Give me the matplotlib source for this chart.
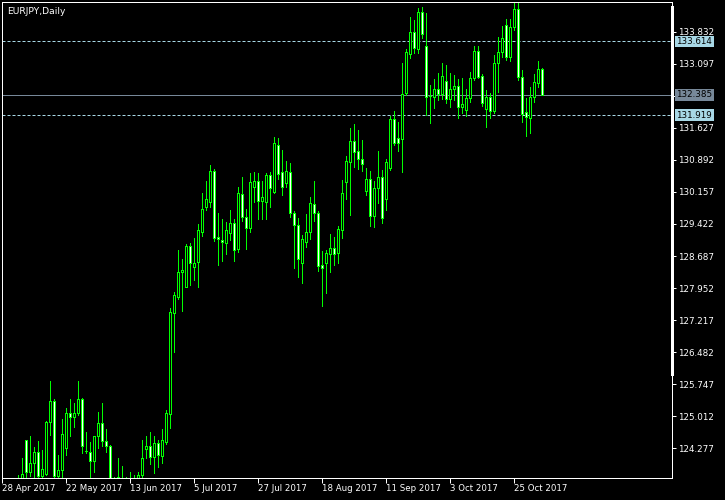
import matplotlib
matplotlib.use('Agg')
import matplotlib.pyplot as plt
import matplotlib.transforms as mtransforms
from matplotlib.patches import Rectangle
import pandas as pd

symbol = "EURJPY,Daily"
first_date = "2017-04-28"
n_days = 136
first_bar = 4  # index (from first_date) of the first bar with data

opens = [123.43, 123.43, 124.46, 123.73, 123.93, 124.19, 123.63, 123.68, 124.87, 125.36,
         123.63, 123.77, 124.28, 125.08, 124.99, 125.08, 125.40, 124.21, 124.19, 123.98,
         124.55, 124.85, 124.44, 124.32, 123.43, 123.59, 123.43, 123.50, 123.50, 123.54,
         123.50, 123.66, 124.25, 124.32, 124.07, 124.39, 124.09, 124.42, 125.06, 127.38,
         127.75, 128.32, 127.98, 128.92, 128.43, 128.55, 129.24, 129.81, 129.93, 130.64,
         129.12, 129.05, 128.99, 129.22, 129.45, 128.85, 130.11, 129.58, 129.33, 130.27,
         130.41, 129.95, 129.93, 130.55, 130.16, 131.24, 130.62, 130.36, 130.62, 129.67,
         129.40, 128.53, 129.01, 129.24, 129.88, 129.67, 128.48, 128.53, 128.73, 128.87,
         128.76, 129.28, 130.39, 130.85, 131.33, 131.10, 130.92, 130.18, 130.46, 129.61,
         130.25, 130.50, 130.00, 130.71, 131.83, 131.40, 131.37, 132.43, 133.33, 133.83,
         133.44, 134.29, 133.51, 132.36, 132.34, 132.52, 132.41, 132.71, 132.29, 132.52,
         132.59, 132.11, 132.04, 132.32, 132.78, 133.40, 132.82, 132.06, 132.34, 132.02,
         133.12, 133.37, 133.99, 133.26, 133.95, 134.36, 132.80, 131.99, 131.86, 132.34,
         132.66, 132.98]
highs = [123.66, 124.05, 124.47, 124.55, 124.30, 124.44, 124.23, 124.90, 125.82, 125.40,
         124.12, 124.94, 125.20, 125.40, 125.31, 125.82, 125.43, 124.64, 124.42, 124.56,
         125.10, 125.31, 124.71, 124.35, 123.61, 124.05, 123.86, 123.61, 123.73, 123.66,
         123.73, 124.46, 124.55, 124.64, 124.55, 124.46, 124.71, 125.15, 127.49, 127.86,
         128.82, 128.62, 128.96, 128.99, 129.10, 129.42, 130.13, 130.41, 130.78, 130.69,
         129.68, 129.54, 129.47, 129.74, 129.54, 130.27, 130.50, 129.77, 130.59, 130.62,
         130.59, 130.41, 130.59, 130.62, 131.42, 131.40, 131.12, 130.87, 130.82, 129.72,
         129.56, 129.17, 129.65, 130.04, 130.41, 129.72, 128.80, 128.83, 129.19, 129.12,
         129.38, 130.43, 130.98, 131.63, 131.72, 131.58, 131.35, 130.71, 130.64, 130.41,
         131.10, 130.66, 130.92, 131.90, 132.02, 131.77, 133.12, 133.44, 134.18, 134.11,
         134.38, 134.41, 134.27, 132.62, 132.75, 132.89, 133.12, 133.07, 132.89, 132.84,
         132.75, 132.78, 132.52, 132.91, 133.51, 133.51, 132.87, 132.50, 132.43, 133.30,
         133.72, 133.97, 134.13, 134.13, 134.50, 134.50, 132.96, 132.32, 132.57, 132.87,
         133.17, 133.00]
lows = [123.31, 123.31, 123.50, 123.63, 123.54, 123.54, 123.54, 123.66, 124.58, 123.50,
        123.54, 123.54, 124.12, 124.55, 124.76, 125.04, 124.16, 124.16, 123.50, 123.73,
        124.28, 124.32, 124.19, 123.31, 123.31, 123.43, 123.31, 123.40, 123.36, 123.40,
        123.43, 123.54, 124.05, 123.91, 123.70, 123.84, 123.93, 124.37, 124.74, 126.48,
        127.70, 127.42, 127.97, 128.02, 128.14, 127.98, 129.15, 129.74, 129.81, 129.03,
        128.48, 128.57, 128.73, 129.05, 128.57, 128.78, 129.49, 128.85, 129.24, 129.93,
        129.54, 129.54, 129.54, 129.81, 130.13, 130.46, 130.09, 130.27, 129.58, 128.41,
        128.20, 128.07, 128.89, 129.08, 129.49, 128.34, 127.54, 127.84, 128.32, 128.48,
        128.53, 129.10, 130.00, 129.63, 130.73, 130.69, 130.64, 130.09, 129.38, 129.35,
        129.90, 129.45, 129.74, 130.66, 131.24, 131.10, 130.62, 132.39, 133.24, 133.35,
        133.35, 133.69, 131.93, 131.74, 132.09, 132.27, 132.29, 132.20, 132.11, 132.27,
        131.86, 131.97, 131.90, 132.22, 132.73, 132.78, 132.13, 131.65, 131.86, 131.97,
        132.45, 133.26, 133.19, 133.17, 133.88, 132.73, 131.77, 131.44, 131.51, 132.22,
        132.57, 132.385]
closes = [123.54, 123.68, 123.73, 123.93, 124.19, 123.63, 123.80, 124.87, 125.36, 123.63,
          123.77, 124.60, 125.08, 124.99, 125.08, 125.40, 124.32, 124.20, 123.98, 124.55,
          124.85, 124.44, 124.32, 123.50, 123.59, 123.61, 123.54, 123.54, 123.54, 123.47,
          123.66, 124.05, 124.32, 124.07, 124.39, 124.12, 124.46, 125.08, 127.40, 127.79,
          128.32, 128.37, 128.92, 128.53, 128.53, 129.28, 129.77, 130.00, 130.64, 129.10,
          129.08, 129.01, 129.28, 129.45, 128.83, 130.13, 129.58, 129.33, 130.39, 130.41,
          129.95, 130.04, 130.55, 130.25, 131.28, 130.57, 130.27, 130.64, 129.67, 129.40,
          128.62, 129.08, 129.24, 129.90, 129.67, 128.46, 128.41, 128.76, 128.87, 128.73,
          129.31, 130.13, 130.87, 131.33, 131.08, 130.92, 130.80, 130.46, 129.61, 130.25,
          130.50, 129.56, 130.85, 131.83, 131.28, 131.28, 132.41, 133.37, 133.83, 133.47,
          134.29, 133.79, 132.34, 132.35, 132.52, 132.41, 132.82, 132.29, 132.52, 132.59,
          132.11, 132.18, 132.32, 132.78, 133.40, 132.80, 132.20, 132.34, 132.02, 133.12,
          133.37, 133.69, 133.26, 133.95, 134.36, 132.80, 131.95, 131.88, 132.34, 132.68,
          132.98, 132.385]

price_ticks = [133.832, 133.097, 132.362, 131.627, 130.892, 130.157, 129.422,
               128.687, 127.952, 127.217, 126.482, 125.747, 125.012, 124.277]
hidden_tick = 132.362  # label covered by the current-price box
dashed_levels = [133.614, 131.919]
current_price = 132.385
date_tick_index = [0, 16, 32, 48, 64, 80, 96, 112, 128]

y_min, y_max = 123.588, 134.521
x_max = 167.5

LIME = '#00FF00'
DASH_COL = '#A8D8E6'
CUR_COL = '#778899'

dates = pd.bdate_range(first_date, periods=n_days)
date_labels = [f"{dates[i].day} {dates[i].strftime('%b %Y')}" for i in date_tick_index]

W, H = 725, 500
fig = plt.figure(figsize=(W / 100, H / 100), dpi=100, facecolor='black')
ax = fig.add_axes([2 / W, 22 / H, 670 / W, 476 / H], facecolor='black')
ax.set_xlim(0, x_max)
ax.set_ylim(y_min, y_max)

px = 72 / 100  # one pixel in points

for k in range(len(opens)):
    i = first_bar + k
    o, h, l, c = opens[k], highs[k], lows[k], closes[k]
    ax.vlines(i, l, h, color=LIME, lw=px, zorder=2, antialiased=False)
    lo, hi = min(o, c), max(o, c)
    face = 'white' if c < o else 'black'
    if hi - lo < 0.02:
        ax.hlines((o + c) / 2, i - 0.25, i + 0.25, color=LIME, lw=px, zorder=3, antialiased=False)
    else:
        ax.add_patch(Rectangle((i - 0.25, lo), 0.5, hi - lo, facecolor=face,
                               edgecolor=LIME, lw=px, zorder=3, antialiased=False))

for lv in dashed_levels:
    ax.axhline(lv, color=DASH_COL, lw=px, dashes=(3, 2), zorder=1.5)
ax.axhline(current_price, color=CUR_COL, lw=px, zorder=1.5)

for sp in ax.spines.values():
    sp.set_color('white')
    sp.set_linewidth(px)

ax.yaxis.tick_right()
ax.set_yticks(price_ticks)
ax.set_yticklabels(["" if v == hidden_tick else f"{v:.3f}" for v in price_ticks])
ax.tick_params(axis='y', colors='white', direction='out', length=3, width=px,
               labelsize=6.3, pad=1)
ax.set_xticks(date_tick_index)
ax.set_xticklabels(date_labels, ha='left')
ax.tick_params(axis='x', colors='white', direction='out', length=3.5, width=px,
               labelsize=6.2, pad=1)
for lbl in ax.get_xticklabels():
    lbl.set_color('white')
for lbl in ax.get_yticklabels():
    lbl.set_color('white')

lab_tr = mtransforms.offset_copy(
    mtransforms.blended_transform_factory(ax.transAxes, ax.transData),
    fig=fig, x=4.5 * px, y=0, units='points')
for lv in dashed_levels:
    ax.text(1.0, lv, f"{lv:.3f}", transform=lab_tr, fontsize=6.3, color='black',
            ha='left', va='center', clip_on=False, zorder=10,
            bbox=dict(boxstyle='square,pad=0.15', facecolor=DASH_COL, edgecolor='none'))
ax.text(1.0, current_price, f"{current_price:.3f}", transform=lab_tr, fontsize=6.3,
        color='black', ha='left', va='center', clip_on=False, zorder=10,
        bbox=dict(boxstyle='square,pad=0.15', facecolor=CUR_COL, edgecolor='none'))

# scroll marker on right border
fig.patches.append(Rectangle((671 / W, (H - 376) / H), 3 / W, 370 / H,
                             transform=fig.transFigure, facecolor='white',
                             edgecolor='none', zorder=5))

ax.text(5 / 670, 1 - 9 / 476, symbol, transform=ax.transAxes, fontsize=6.6,
        color='white', ha='left', va='center', zorder=10)

fig.savefig('out.png', dpi=100, facecolor='black')
